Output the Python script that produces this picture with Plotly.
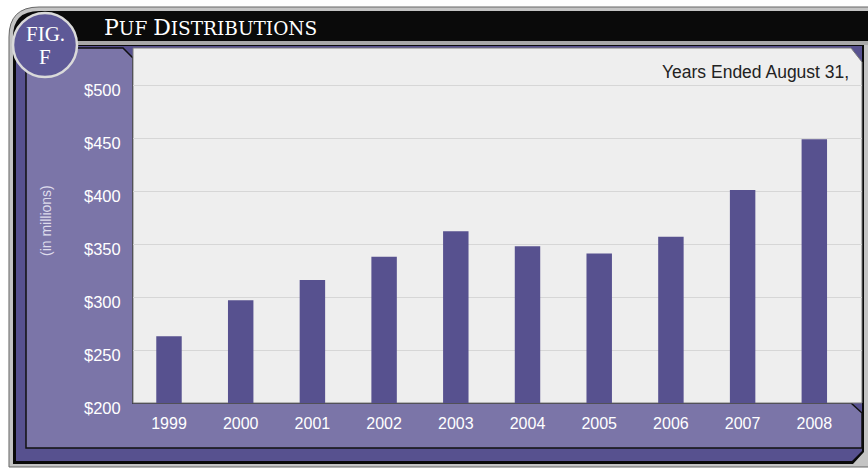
import plotly.graph_objects as go

# ---- data ----
years = ["1999", "2000", "2001", "2002", "2003", "2004", "2005", "2006", "2007", "2008"]
distributions = [263, 297, 316, 338, 362, 348, 341, 357, 401, 449]  # $ millions
y_ticks = [200, 250, 300, 350, 400, 450, 500]
y_tick_labels = ["$200", "$250", "$300", "$350", "$400", "$450", "$500"]

# ---- layout geometry (pixels) ----
W, H = 868, 468
L, R, T, B = 133, 862, 48, 403


def px(x):
    return (x - L) / (R - L)


def py(y):
    return (B - y) / (B - T)


def pt(x, y):
    return f"{px(x):.5f},{py(y):.5f}"


def poly(pts):
    return "M " + " L ".join(pt(x, y) for x, y in pts) + " Z"


def rounded_path(x0, y0, x1, y1, r):
    return (f"M {pt(x0, y1)} L {pt(x0, y0 + r)} Q {pt(x0, y0)} {pt(x0 + r, y0)} "
            f"L {pt(x1, y0)} L {pt(x1, y1)} Z")


PANEL = "#7b75a8"
DARK = "#57518f"
BAR = "#57518f"

shapes = [
    # outer gray frame
    dict(type="path", path=rounded_path(9, 7, 875, 467, 30),
         fillcolor="#c4c4c4", line=dict(color="#666666", width=1)),
    # black inner (title band + outlines)
    dict(type="path",
         path=(f"M {pt(13, 464)} L {pt(13, 37)} Q {pt(13, 11)} {pt(39, 11)} "
               f"L {pt(875, 11)} L {pt(875, 41)} L {pt(864, 41)} L {pt(864, 452)} "
               f"L {pt(853, 464)} Z"),
         fillcolor="#0a0a0a", line=dict(width=0)),
    # gray line under the title band
    dict(type="rect", x0=px(26), x1=px(875), y0=py(45), y1=py(41),
         fillcolor="#a8a8a8", line=dict(width=0)),
    # dark purple band
    dict(type="path",
         path=poly([(16, 46), (862, 46), (862, 451), (852, 461), (16, 461)]),
         fillcolor=DARK, line=dict(width=0)),
    # light purple panel
    dict(type="path",
         path=poly([(26, 48), (123, 48), (133, 58), (133, 403), (851, 403),
                    (862, 413), (862, 448), (26, 448)]),
         fillcolor=PANEL, line=dict(color="#111111", width=1.5)),
    # plot area
    dict(type="path",
         path=poly([(133, 48), (851, 48), (862, 62), (862, 403), (133, 403)]),
         fillcolor="#eeeeee", line=dict(color="#7a7a7a", width=1)),
    # FIG. circle
    dict(type="circle", x0=px(13), x1=px(77), y0=py(77), y1=py(13),
         fillcolor="#5e5997", line=dict(color="#dadada", width=2.5)),
]
for s in shapes:
    s.update(xref="paper", yref="paper", layer="below")

title_html = ('<span style="font-size:22px">P</span><span style="font-size:18.5px">UF </span>'
              '<span style="font-size:22px">D</span><span style="font-size:18.5px">ISTRIBUTIONS</span>')

annotations = [
    dict(x=px(102), y=py(27), xanchor="left", yanchor="middle", text=title_html,
         font=dict(family="DejaVu Serif", color="white", size=18)),
    dict(x=px(45), y=py(34), xanchor="center", yanchor="middle", text="FIG.",
         font=dict(family="Liberation Serif", color="white", size=21)),
    dict(x=px(45), y=py(57), xanchor="center", yanchor="middle", text="F",
         font=dict(family="Liberation Serif", color="white", size=21)),
    dict(x=px(851), y=py(72), xanchor="right", yanchor="middle",
         text="Years Ended August 31,",
         font=dict(family="Liberation Sans", color="#222222", size=17.5)),
    dict(x=px(46), y=py(221), xanchor="center", yanchor="middle",
         text="(in millions)", textangle=-90,
         font=dict(family="Liberation Sans", color="#dedcec", size=14)),
]
for a in annotations:
    a.update(xref="paper", yref="paper", showarrow=False)

fig = go.Figure(
    go.Bar(x=years, y=distributions, marker=dict(color=BAR, line=dict(width=0)),
           width=0.355, hoverinfo="x+y")
)

fig.update_layout(
    width=W, height=H,
    margin=dict(l=L, r=W - R, t=T, b=H - B, pad=0),
    paper_bgcolor="white",
    plot_bgcolor="rgba(0,0,0,0)",
    showlegend=False,
    shapes=shapes,
    annotations=annotations,
    bargap=0.6,
)
fig.update_xaxes(
    type="category", range=[-0.502, 9.665],
    showgrid=False, showline=False, zeroline=False,
    ticks="outside", ticklen=6, tickcolor="rgba(0,0,0,0)",
    tickfont=dict(family="Liberation Sans", color="white", size=16),
    fixedrange=True,
)
fig.update_yaxes(
    range=[200, 535], tickvals=y_ticks, ticktext=y_tick_labels,
    showgrid=True, gridcolor="#d6d6d6", gridwidth=1,
    showline=False, zeroline=False,
    ticks="outside", ticklen=8, tickcolor="rgba(0,0,0,0)",
    ticklabelshift=5,
    tickfont=dict(family="Liberation Sans", color="white", size=16.5),
    fixedrange=True,
)

fig.write_html(
    "out.html",
    config={"displayModeBar": False},
    post_script="document.body.style.margin='0';document.body.style.overflow='hidden';",
)
